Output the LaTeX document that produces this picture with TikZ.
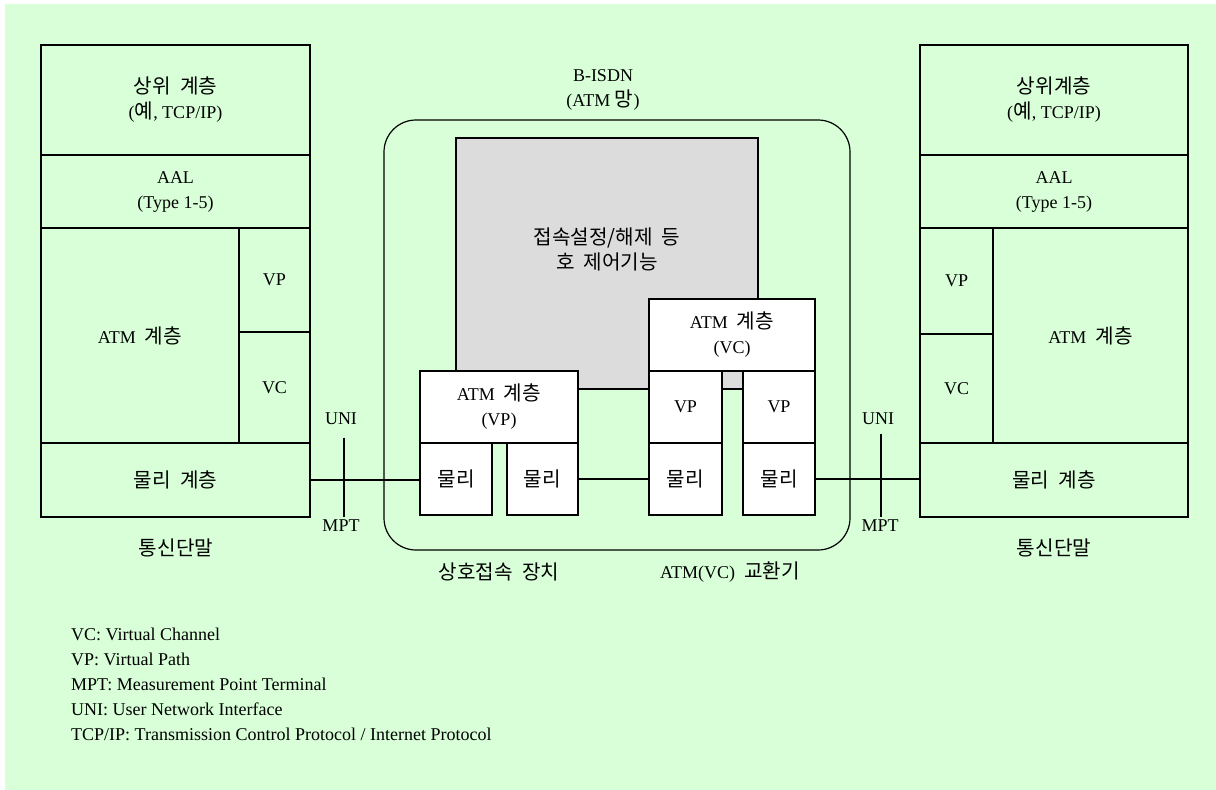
\documentclass[tikz,border=0pt]{standalone}
\usepackage{fontspec}
\setmainfont{Liberation Serif}
\newfontfamily\kr{Noto Sans CJK KR}[Scale=1.12]
\definecolor{bggreen}{RGB}{216,255,216}
\definecolor{ctrlgray}{RGB}{220,220,220}

\begin{document}
\begin{tikzpicture}[x=1pt,y=-1pt,
    every node/.style={font=\fontsize{18}{25}\selectfont, align=center},
    layer/.style={draw, line width=1.2pt, inner sep=0pt, outer sep=0pt, anchor=north west},
    wh/.style 2 args={minimum width=#1pt, minimum height=#2pt},
    unit/.style={layer, fill=white},
    wire/.style={line width=1.2pt}]
    \useasboundingbox (0,0) rectangle (1216,790);
    \fill[bggreen] (5,4) rectangle (1216,790);

    % left terminal
    \node[layer, wh={269}{110}] (upL) at (41,45) {{\kr 상위~~계층}\\({\kr 예}, TCP/IP)};
    \node[layer, wh={269}{73}] (aalL) at (41,155) {AAL\\(Type 1-5)};
    \node[layer, wh={198}{215}] (atmL) at (41,228) {ATM~~{\kr 계층}};
    \node[layer, wh={71}{104}] (vpL) at (239,228) {VP};
    \node[layer, wh={71}{111}] (vcL) at (239,332) {VC};
    \node[layer, wh={269}{74}] (phyL) at (41,443) {\kr 물리~~계층};
    \node (termL) at (176,548) {\kr 통신단말};

    % right terminal
    \node[layer, wh={268}{110}] (upR) at (920,45) {{\kr 상위계층}\\({\kr 예}, TCP/IP)};
    \node[layer, wh={268}{73}] (aalR) at (920,155) {AAL\\(Type 1-5)};
    \node[layer, wh={73}{106}] (vpR) at (920,228) {VP};
    \node[layer, wh={73}{109}] (vcR) at (920,334) {VC};
    \node[layer, wh={195}{215}] (atmR) at (993,228) {ATM~~{\kr 계층}};
    \node[layer, wh={268}{74}] (phyR) at (920,443) {\kr 물리~~계층};
    \node (termR) at (1054,548) {\kr 통신단말};

    % network
    \node (bisdn) at (603,90) {B-ISDN\\(ATM~{\kr 망})};
    \node[layer, wh={466}{430}, rounded corners=32pt] (isdn) at (384,120) {};
    \node[layer, wh={302}{251}, fill=ctrlgray] (ctrl) at (456,138) {};
    \node at ([yshift=14pt]ctrl.center) {\kr 접속설정/해제~~등\\\kr 호~~제어기능};

    % interconnection unit
    \node[unit, wh={158}{72}] (atmVP) at (420,371) {ATM~~{\kr 계층}\\(VP)};
    \node[unit, wh={72}{72}] (phyA) at (420,443) {\kr 물리};
    \node[unit, wh={71}{72}] (phyB) at (507,443) {\kr 물리};
    \node (ic) at (499,572) {\kr 상호접속~~장치};

    % ATM switch
    \node[unit, wh={166}{72}] (atmVC) at (649,299) {ATM~~{\kr 계층}\\(VC)};
    \node[unit, wh={73}{72}] (vpA) at (649,371) {VP};
    \node[unit, wh={72}{72}] (vpB) at (743,371) {VP};
    \node[unit, wh={73}{72}] (phyC) at (649,443) {\kr 물리};
    \node[unit, wh={72}{72}] (phyD) at (743,443) {\kr 물리};
    \node (sw) at (730,572) {ATM(VC)~~{\kr 교환기}};

    % links
    \draw[wire] (phyL.east) -- (phyL.east -| phyA.west);
    \draw[wire] (phyB.east) -- (phyB.east -| phyC.west);
    \draw[wire] (phyD.east) -- (phyD.east -| phyR.west);

    % measurement points
    \node (uniL) at (341,419) {UNI};
    \node (mptL) at (341,526) {MPT};
    \draw[wire, shorten <=9pt] (uniL.south -| 344,0) -- (mptL.north -| 344,0);
    \node (uniR) at (878,419) {UNI};
    \node (mptR) at (880,526) {MPT};
    \draw[wire, shorten <=5pt] (uniR.south -| 881,0) -- (mptR.north -| 881,0);

    % legend
    \node[anchor=north west, align=left, inner sep=0pt] (legend) at (71,628)
        {VC: Virtual Channel\\VP: Virtual Path\\MPT: Measurement Point Terminal\\UNI: User Network Interface\\TCP/IP: Transmission Control Protocol / Internet Protocol};
\end{tikzpicture}
\end{document}
